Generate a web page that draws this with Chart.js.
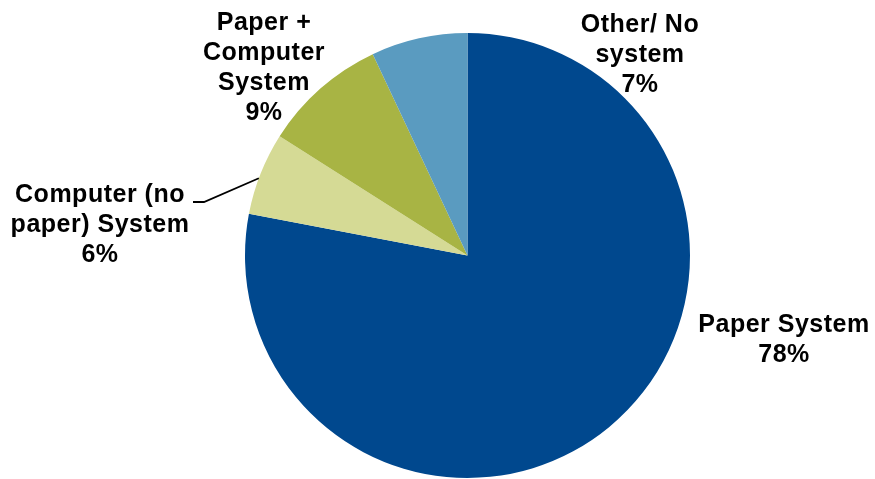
<!DOCTYPE html>
<html>
<head>
<meta charset="utf-8">
<script src="https://cdn.jsdelivr.net/npm/chart.js@4/dist/chart.umd.min.js"></script>
<style>
  html, body { margin: 0; padding: 0; background: #ffffff; }
  #wrap { width: 875px; height: 479px; }
</style>
</head>
<body>
<div id="wrap"><canvas id="pie" width="875" height="479"></canvas></div>
<script>
// Share of respondents by record-keeping system
const categories = ['Paper System', 'Computer (no paper) System', 'Paper + Computer System', 'Other/ No system'];
const shares = [78, 6, 9, 7];
const sliceColors = ['#00488E', '#D5DA95', '#A8B444', '#5A9BC0'];

// How each category name is broken over lines in its label
const labelLines = [
  ['Paper System'],
  ['Computer (no', 'paper) System'],
  ['Paper +', 'Computer', 'System'],
  ['Other/ No', 'system']
];

// Label placement: centre x and first baseline y, plus optional leader line
// (the leader meets the slice edge at "at" of the way through its sweep)
const labelLayout = [
  { x: 784, y: 332, leader: null },
  { x: 100, y: 202, leader: { from: [193, 202], elbow: [204, 202], at: 0.44 } },
  { x: 264, y: 30, leader: null },
  { x: 640, y: 32, leader: null }
];

const LINE_HEIGHT = 30;

const sliceLabels = {
  id: 'sliceLabels',
  afterDraw(chart) {
    const ctx = chart.ctx;
    const meta = chart.getDatasetMeta(0);
    ctx.save();
    ctx.fillStyle = '#000000';
    ctx.font = 'bold 25px "Liberation Sans", Arial, sans-serif';
    ctx.textAlign = 'center';
    ctx.textBaseline = 'alphabetic';
    if ('letterSpacing' in ctx) ctx.letterSpacing = '0.5px';
    categories.forEach((cat, i) => {
      const pos = labelLayout[i];
      const lines = labelLines[i].concat([shares[i] + '%']);
      lines.forEach((t, k) => {
        ctx.fillText(t, pos.x, pos.y + k * LINE_HEIGHT);
      });
      if (pos.leader) {
        const arc = meta.data[i];
        const a = arc.startAngle + (arc.endAngle - arc.startAngle) * pos.leader.at;
        const ex = arc.x + Math.cos(a) * arc.outerRadius;
        const ey = arc.y + Math.sin(a) * arc.outerRadius;
        ctx.beginPath();
        ctx.strokeStyle = '#000000';
        ctx.lineWidth = 1.8;
        ctx.moveTo(pos.leader.from[0], pos.leader.from[1]);
        ctx.lineTo(pos.leader.elbow[0], pos.leader.elbow[1]);
        ctx.lineTo(ex, ey);
        ctx.stroke();
      }
    });
    ctx.restore();
  }
};

new Chart(document.getElementById('pie'), {
  type: 'pie',
  data: {
    labels: categories,
    datasets: [{
      data: shares,
      backgroundColor: sliceColors,
      borderWidth: 0
    }]
  },
  options: {
    responsive: false,
    animation: false,
    events: [],
    layout: { padding: { left: 245, right: 185, top: 33, bottom: 1 } },
    plugins: {
      legend: { display: false },
      tooltip: { enabled: false },
      title: { display: false }
    }
  },
  plugins: [sliceLabels]
});
</script>
</body>
</html>
